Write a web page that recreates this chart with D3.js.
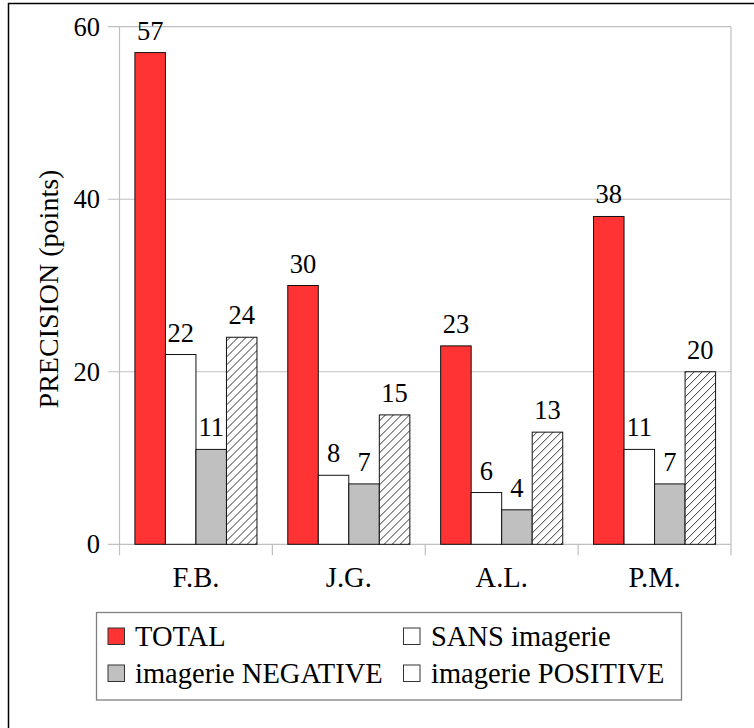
<!DOCTYPE html>
<html>
<head>
<meta charset="utf-8">
<script src="https://cdn.jsdelivr.net/npm/d3@7"></script>
<style>
  body { margin: 0; background: #fff; }
  text { font-family: "Liberation Serif", "DejaVu Serif", serif; fill: #000; }
</style>
</head>
<body>
<svg id="chart" width="754" height="728"></svg>
<script>
const categories = ["F.B.", "J.G.", "A.L.", "P.M."];
const seriesNames = ["TOTAL", "SANS imagerie", "imagerie NEGATIVE", "imagerie POSITIVE"];
const total = [57, 30, 23, 38];
const sans = [22, 8, 6, 11];
const negative = [11, 7, 4, 7];
const positive = [24, 15, 13, 20];
const yTicks = [0, 20, 40, 60];

const values = [total, sans, negative, positive];
const fills = ["#ff3333", "#ffffff", "#c0c0c0", "url(#hatch)"];
const legendFills = ["#ff3333", "#ffffff", "#c0c0c0", "#ffffff"];

const svg = d3.select("#chart");

// hatch for the positive series
svg.append("defs").append("pattern")
    .attr("id", "hatch")
    .attr("patternUnits", "userSpaceOnUse")
    .attr("width", 8)
    .attr("height", 8)
    .call(p => {
        p.append("rect").attr("width", 8).attr("height", 8).attr("fill", "#fff");
        p.append("path").attr("d", "M-2,2 L2,-2 M0,8 L8,0 M6,10 L10,6")
            .attr("stroke", "#000").attr("stroke-width", 0.8);
    });

// outer frame (only top and left edges are in view)
svg.append("path")
    .attr("d", "M8.5,760 L8.5,3.5 L760,3.5")
    .attr("fill", "none").attr("stroke", "#000").attr("stroke-width", 1.5);

const plotLeft = 119.5, plotRight = 731, plotTop = 26.7, plotBottom = 544.3;

const x0 = d3.scaleBand().domain(categories).range([plotLeft, plotRight]);
const x1 = d3.scaleBand().domain(seriesNames).range([15.4, x0.bandwidth() - 15.4]);
const y = d3.scaleLinear().domain([0, 60]).range([plotBottom, plotTop]);

// gridlines + y ticks
svg.append("g")
    .selectAll("line")
    .data(yTicks)
    .join("line")
    .attr("x1", plotLeft - 11.5)
    .attr("x2", plotRight)
    .attr("y1", d => y(d))
    .attr("y2", d => y(d))
    .attr("stroke", "#c0c0c0")
    .attr("stroke-width", 1.2);

svg.append("g")
    .selectAll("text")
    .data(yTicks)
    .join("text")
    .attr("x", 100)
    .attr("y", d => y(d))
    .attr("dy", "0.34em")
    .attr("text-anchor", "end")
    .attr("font-size", 26.5)
    .text(d => d);

// y axis line, right border, category ticks
svg.append("line")
    .attr("x1", plotLeft).attr("x2", plotLeft)
    .attr("y1", plotTop).attr("y2", plotBottom + 11)
    .attr("stroke", "#c0c0c0").attr("stroke-width", 1.2);

svg.append("g")
    .selectAll("line")
    .data(categories.slice(1).map(c => x0(c)).concat([plotRight]))
    .join("line")
    .attr("x1", d => d).attr("x2", d => d)
    .attr("y1", d => d === plotRight ? plotTop : plotBottom)
    .attr("y2", plotBottom + 11)
    .attr("stroke", "#c0c0c0").attr("stroke-width", 1.2);

// bars
const groups = svg.append("g")
    .selectAll("g")
    .data(categories)
    .join("g")
    .attr("transform", d => `translate(${x0(d)},0)`);

groups.selectAll("rect")
    .data((c, i) => seriesNames.map((s, j) => ({ s, j, v: values[j][i] })))
    .join("rect")
    .attr("x", d => x1(d.s))
    .attr("width", x1.bandwidth())
    .attr("y", d => y(d.v))
    .attr("height", d => y(0) - y(d.v))
    .attr("fill", d => fills[d.j])
    .attr("stroke", "#111")
    .attr("stroke-width", 1);

groups.selectAll("text")
    .data((c, i) => seriesNames.map((s, j) => ({ s, j, v: values[j][i] })))
    .join("text")
    .attr("x", d => x1(d.s) + x1.bandwidth() / 2)
    .attr("y", d => y(d.v) - 13)
    .attr("text-anchor", "middle")
    .attr("font-size", 26.5)
    .text(d => d.v);

// category labels
svg.append("g")
    .selectAll("text")
    .data(categories)
    .join("text")
    .attr("x", d => x0(d) + x0.bandwidth() / 2)
    .attr("y", 586.5)
    .attr("text-anchor", "middle")
    .attr("font-size", 28.5)
    .text(d => d);

// y title
svg.append("text")
    .attr("transform", "translate(57.5,289) rotate(-90)")
    .attr("text-anchor", "middle")
    .attr("font-size", 28)
    .text("PRECISION (points)");

// legend
svg.append("rect")
    .attr("x", 96.5).attr("y", 612.5)
    .attr("width", 585).attr("height", 87.5)
    .attr("fill", "#fff").attr("stroke", "#808080").attr("stroke-width", 1.3);

const legendPos = [[108, 646], [403.5, 646], [108, 683], [403.5, 683]];
const legendOrder = [0, 1, 2, 3];

const items = svg.append("g")
    .selectAll("g")
    .data(legendOrder)
    .join("g")
    .attr("transform", j => `translate(${legendPos[j][0]},${legendPos[j][1]})`);

items.append("rect")
    .attr("x", 0).attr("y", -18)
    .attr("width", 16.5).attr("height", 16.5)
    .attr("fill", j => legendFills[j])
    .attr("stroke", "#333").attr("stroke-width", 1);

items.append("text")
    .attr("x", j => j % 2 === 0 ? 27 : 27.5)
    .attr("y", 0)
    .attr("font-size", 28.5)
    .text(j => seriesNames[j]);
</script>
</body>
</html>
